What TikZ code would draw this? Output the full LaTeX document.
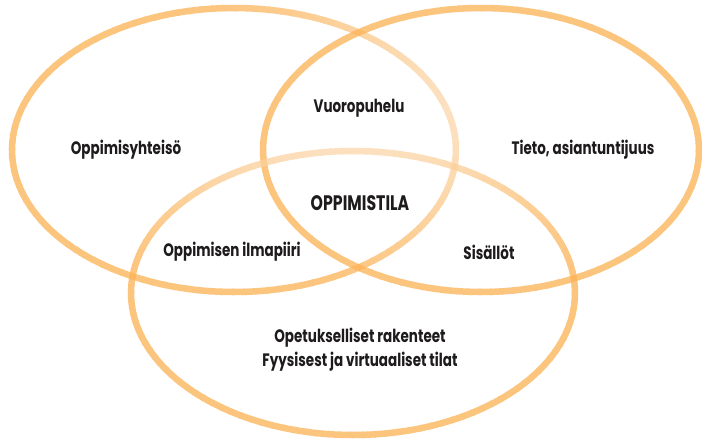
\documentclass[tikz,border=0pt]{standalone}
\usepackage{fontspec}
\setmainfont{Poppins}[FakeStretch=0.75]
\definecolor{ornorm}{RGB}{252,178,84}
\definecolor{orlight}{RGB}{252,214,170}
\definecolor{txt}{RGB}{30,27,28}
\tikzset{
  ring/.style={line width=6.5pt},
  lab/.style={font=\bfseries\fontsize{18}{24}\selectfont, text=txt, inner sep=0pt},
  biglab/.style={lab, font=\bfseries\fontsize{21}{24}\selectfont}
}
% cx cy rx ry fade-angle max-mix
\newcommand\fadering[6]{%
  \foreach \a in {0,3,...,357}{%
    \pgfmathsetmacro\c{max(0,cos(\a+1.5-#5))}%
    \pgfmathsetmacro\t{#6*\c*\c}%
    \draw[ring, draw=orlight!\t!ornorm] ({#1+#3*cos(\a)},{#2+#4*sin(\a)}) arc[start angle=\a, end angle=\a+3.6, x radius=#3, y radius=#4];
  }}
\begin{document}
\begin{tikzpicture}[x=1pt,y=-1pt]
\useasboundingbox (0,0) rectangle (702,440);
\fill[white] (0,0) rectangle (702,440);
% left ellipse
\begin{scope}[transparency group, opacity=0.75]
\fadering{234}{150}{222}{142}{345}{100}
\end{scope}
% right ellipse
\begin{scope}[transparency group, opacity=0.75]
\fadering{481}{150}{218}{142}{0}{0}
\end{scope}
% bottom ellipse
\begin{scope}[transparency group, opacity=0.75]
\fadering{353}{293}{222}{142}{270}{100}
\end{scope}
\node[lab] (yht) at (126,150) {Oppimisyhteisö};
\node[lab] (vuo) at (359,108) {Vuoropuhelu};
\node[lab] (tie) at (583,150) {Tieto, asiantuntijuus};
\node[biglab] (oti) at (360,203) {OPPIMISTILA};
\node[lab] (ilm) at (232,252) {Oppimisen ilmapiiri};
\node[lab] (sis) at (489,252) {Sisällöt};
\node[lab] (ope) at (360,338) {Opetukselliset rakenteet};
\node[lab] (fyy) at (360,362) {Fyysisest ja virtuaaliset tilat};
\end{tikzpicture}
\end{document}
